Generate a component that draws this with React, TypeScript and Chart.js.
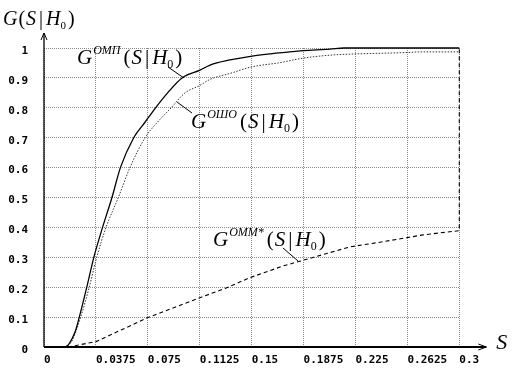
import React, { useEffect, useRef } from "react";
import { Chart, registerables } from "chart.js";

Chart.register(...registerables);

const xTicks = [0, 0.0375, 0.075, 0.1125, 0.15, 0.1875, 0.225, 0.2625, 0.3];
const xTickLabels = ["0", "0.0375", "0.075", "0.1125", "0.15", "0.1875", "0.225", "0.2625", "0.3"];
const yTicks = [0, 0.1, 0.2, 0.3, 0.4, 0.5, 0.6, 0.7, 0.8, 0.9, 1];
const yTickLabels = ["0", "0.1", "0.2", "0.3", "0.4", "0.5", "0.6", "0.7", "0.8", "0.9", "1"];

// G^ОМП(S|H0) — solid
const ompX = [0.008, 0.0152, 0.0224, 0.0255, 0.0309, 0.036, 0.0423, 0.0491, 0.0552, 0.0648, 0.0727, 0.0806, 0.0893, 0.0997, 0.1127, 0.12, 0.1344, 0.1503, 0.1705, 0.1871, 0.2066, 0.2167, 0.3];
const ompY = [0, 0, 0.05, 0.1, 0.2, 0.3, 0.4, 0.5, 0.6, 0.7, 0.75, 0.8, 0.85, 0.9, 0.926, 0.943, 0.96, 0.973, 0.984, 0.991, 0.996, 1.0, 1.0];

// G^ОШО(S|H0) — dotted
const oshoX = [0.0152, 0.0202, 0.0265, 0.0327, 0.0381, 0.0448, 0.0537, 0.0621, 0.073, 0.0816, 0.0918, 0.1019, 0.1127, 0.1199, 0.1344, 0.1503, 0.1705, 0.1871, 0.2066, 0.2247, 0.263, 0.2716, 0.3];
const oshoY = [0, 0.02, 0.1, 0.2, 0.3, 0.4, 0.5, 0.6, 0.7, 0.75, 0.8, 0.85, 0.875, 0.895, 0.915, 0.937, 0.951, 0.966, 0.976, 0.98, 0.985, 0.987, 0.987];

// G^ОММ*(S|H0) — dashed
const ommX = [0.0173, 0.0376, 0.0744, 0.1127, 0.1308, 0.1488, 0.1727, 0.1864, 0.2211, 0.2449, 0.2738, 0.3, 0.3];
const ommY = [0, 0.018, 0.097, 0.165, 0.196, 0.232, 0.271, 0.289, 0.335, 0.352, 0.375, 0.389, 1.0];

const labels = [
  { sup: "ОМП", x: 77, y: 64, lx1: 168, ly1: 67, lx2: 184, ly2: 78 },
  { sup: "ОШО", x: 191, y: 128, lx1: 177, ly1: 102, lx2: 192, ly2: 113 },
  { sup: "ОММ*", x: 213, y: 246, lx1: 283, ly1: 248, lx2: 298, ly2: 261 },
];

const toPts = (xs: number[], ys: number[]) => xs.map((x, i) => ({ x, y: ys[i] }));

const SERIF = '"Liberation Serif", "Times New Roman", serif';

function drawMath(ctx: CanvasRenderingContext2D, x: number, b: number, sup: string | null, size: number) {
  let cx = x;
  const it = (s: number) => `italic ${s}px ${SERIF}`;
  const rg = (s: number) => `${s}px ${SERIF}`;
  ctx.font = it(size);
  ctx.fillText("G", cx, b);
  cx += ctx.measureText("G").width;
  if (sup) {
    ctx.font = it(Math.round(size * 0.55));
    ctx.fillText(sup, cx + 1, b - size * 0.5);
    cx += ctx.measureText(sup).width + 4;
  } else {
    cx += 1;
  }
  ctx.font = rg(size);
  ctx.fillText("(", cx, b);
  cx += ctx.measureText("(").width + 1;
  ctx.font = it(size);
  ctx.fillText("S", cx, b);
  cx += ctx.measureText("S").width + 3;
  ctx.font = rg(size);
  ctx.fillText("|", cx, b);
  cx += ctx.measureText("|").width + 3;
  ctx.font = it(size);
  ctx.fillText("H", cx, b);
  cx += ctx.measureText("H").width;
  ctx.font = rg(Math.round(size * 0.55));
  ctx.fillText("0", cx, b + size * 0.2);
  cx += ctx.measureText("0").width + 2;
  ctx.font = rg(size);
  ctx.fillText(")", cx, b);
}

const decorPlugin = {
  id: "decor",
  afterDatasetsDraw(chart: any) {
    const ctx: CanvasRenderingContext2D = chart.ctx;
    const xs = chart.scales.x;
    const ys = chart.scales.y;
    const x0 = xs.getPixelForValue(0);
    const y0 = ys.getPixelForValue(0);
    const yTop = ys.getPixelForValue(1);
    const xEnd = xs.getPixelForValue(0.3);
    ctx.save();
    ctx.strokeStyle = "#000";
    ctx.fillStyle = "#000";
    // y axis with arrow
    ctx.lineWidth = 1.3;
    ctx.beginPath();
    ctx.moveTo(x0, y0);
    ctx.lineTo(x0, yTop - 15);
    ctx.stroke();
    ctx.lineWidth = 1;
    ctx.beginPath();
    ctx.moveTo(x0 - 3, yTop - 8);
    ctx.lineTo(x0, yTop - 15);
    ctx.lineTo(x0 + 3, yTop - 8);
    ctx.stroke();
    // x axis with arrow
    ctx.lineWidth = 1.8;
    ctx.beginPath();
    ctx.moveTo(x0, y0);
    ctx.lineTo(xEnd + 27, y0);
    ctx.stroke();
    ctx.lineWidth = 1;
    ctx.beginPath();
    ctx.moveTo(xEnd + 19, y0 - 3);
    ctx.lineTo(xEnd + 27, y0);
    ctx.lineTo(xEnd + 19, y0 + 3);
    ctx.stroke();

    // axis titles
    ctx.textBaseline = "alphabetic";
    ctx.textAlign = "left";
    drawMath(ctx, 3, 25, null, 20);
    ctx.font = `italic 22px ${SERIF}`;
    ctx.fillText("S", xEnd + 37, 349);

    // curve labels with leader lines
    labels.forEach((l) => {
      ctx.fillStyle = "#000";
      drawMath(ctx, l.x, l.y, l.sup, 21);
      ctx.lineWidth = 1;
      ctx.beginPath();
      ctx.moveTo(l.lx1, l.ly1);
      ctx.lineTo(l.lx2, l.ly2);
      ctx.stroke();
    });
    ctx.restore();
  },
};

export default function App() {
  const ref = useRef<HTMLCanvasElement | null>(null);
  useEffect(() => {
    if (!ref.current) return;
    const gridCommon = {
      color: "#8a8a8a",
      lineWidth: 1,
      drawTicks: false,
    };
    const tickFont = { family: '"DejaVu Sans Mono", monospace', weight: "bold", size: 11 };
    const chart = new Chart(ref.current, {
      type: "line",
      data: {
        datasets: [
          {
            label: "ОМП",
            data: toPts(ompX, ompY),
            borderColor: "#000",
            borderWidth: 1.3,
            pointRadius: 0,
            cubicInterpolationMode: "monotone",
            fill: false,
            clip: 4,
          },
          {
            label: "ОШО",
            data: toPts(oshoX, oshoY),
            borderColor: "#333",
            borderWidth: 1,
            borderDash: [1.5, 1.5],
            pointRadius: 0,
            cubicInterpolationMode: "monotone",
            fill: false,
            clip: 4,
          },
          {
            label: "ОММ*",
            data: toPts(ommX, ommY),
            borderColor: "#000",
            borderWidth: 1.1,
            borderDash: [4, 3],
            pointRadius: 0,
            tension: 0,
            fill: false,
            clip: 4,
          },
        ],
      },
      options: {
        responsive: false,
        animation: false,
        devicePixelRatio: 1,
        layout: { padding: { left: 0, top: 48, right: 64.7, bottom: 0 } },
        plugins: { legend: { display: false }, tooltip: { enabled: false } },
        scales: {
          x: {
            type: "linear",
            min: 0,
            max: 0.3,
            grid: gridCommon as any,
            border: { display: false, dash: [1, 1] } as any,
            afterBuildTicks: (s: any) => {
              s.ticks = xTicks.map((v) => ({ value: v }));
            },
            afterFit: (s: any) => {
              s.height = 25;
            },
            ticks: {
              align: "start",
              padding: 7,
              maxRotation: 0,
              autoSkip: false,
              color: "#000",
              font: tickFont,
              callback: (v: any) => {
                const i = xTicks.findIndex((t) => Math.abs(t - v) < 1e-9);
                return i >= 0 ? xTickLabels[i] : "";
              },
            },
          },
          y: {
            type: "linear",
            min: 0,
            max: 1,
            grid: gridCommon as any,
            border: { display: false, dash: [1, 1] } as any,
            afterBuildTicks: (s: any) => {
              s.ticks = yTicks.map((v) => ({ value: v }));
            },
            afterFit: (s: any) => {
              s.width = 44;
            },
            ticks: {
              padding: 16,
              labelOffset: 3,
              autoSkip: false,
              color: "#000",
              font: tickFont,
              callback: (v: any) => {
                const i = yTicks.findIndex((t) => Math.abs(t - v) < 1e-9);
                return i >= 0 ? yTickLabels[i] : "";
              },
            },
          },
        },
      },
      plugins: [decorPlugin],
    } as any);
    return () => chart.destroy();
  }, []);
  return (
    <div style={{ position: "fixed", left: 0, top: 0, width: 524, height: 372, background: "#fff" }}>
      <canvas ref={ref} width={524} height={372} style={{ display: "block" }} />
    </div>
  );
}
